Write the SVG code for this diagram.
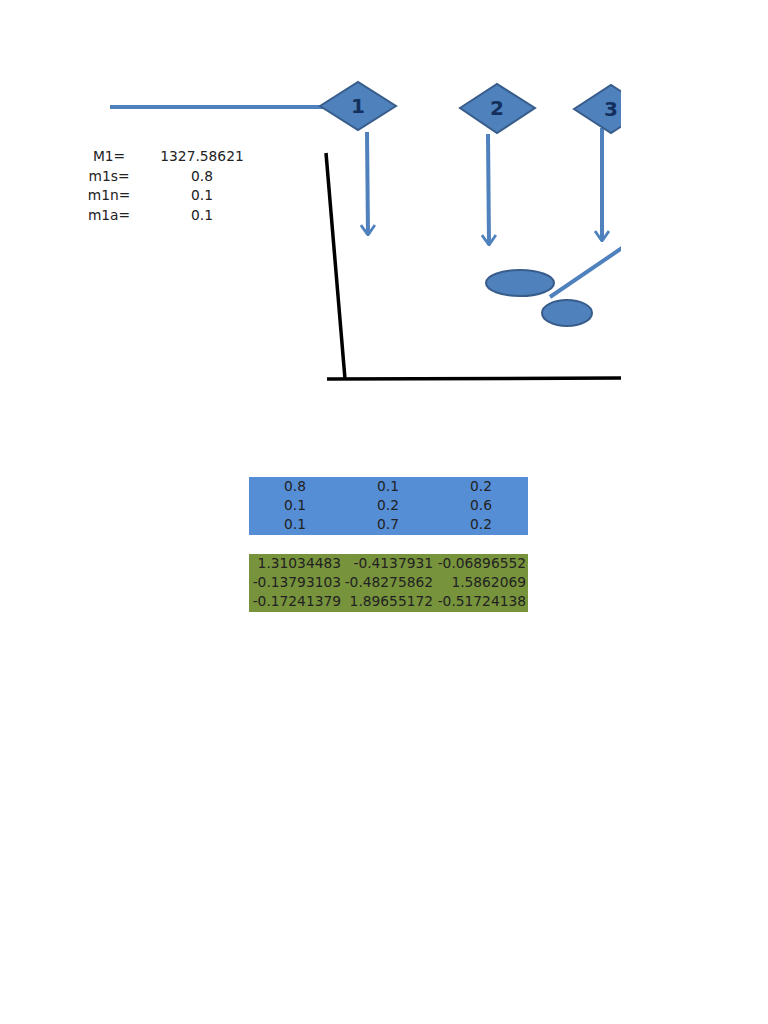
<svg xmlns="http://www.w3.org/2000/svg" width="768" height="1024" viewBox="0 0 768 1024">
<style>
.dia{fill:#4f81bd;stroke:#385d8a;stroke-width:2}
.num{font-family:"DejaVu Sans",sans-serif;font-weight:bold;font-size:20px;fill:#14305e;text-anchor:middle}
.bl{stroke:#4f81bd;stroke-width:4;fill:none}
.blk{stroke:#000;stroke-width:3.5;fill:none}
.t{font-family:"DejaVu Sans",sans-serif;font-size:13.8px;fill:#222}
.c{text-anchor:middle}
.r{text-anchor:end}
</style>
<defs>
<marker id="v" markerWidth="12" markerHeight="16" refX="11" refY="8" orient="auto" markerUnits="userSpaceOnUse" viewBox="0 0 12 16">
<path d="M1,1 L11,8 L1,15" fill="none" stroke="#4f81bd" stroke-width="2.8"/>
</marker>
<clipPath id="clip"><rect x="0" y="0" width="621" height="1024"/></clipPath>
</defs>
<rect width="768" height="1024" fill="#fff"/>
<g id="connectors" clip-path="url(#clip)">
<line class="bl" x1="110" y1="107" x2="324" y2="107"/>
<line class="bl" x1="367" y1="132" x2="368" y2="235" marker-end="url(#v)"/>
<line class="bl" x1="488" y1="134" x2="489" y2="245" marker-end="url(#v)"/>
<line class="bl" x1="602" y1="128" x2="602" y2="241" marker-end="url(#v)"/>
<line class="bl" x1="550" y1="297" x2="622" y2="248"/>
<line class="blk" x1="326" y1="153" x2="345" y2="379"/>
<line class="blk" x1="327" y1="379" x2="621" y2="378"/>
</g>
<g id="node1">
<polygon class="dia" points="320,106 358,82 396,106 358,130"/>
<text class="num" x="358" y="113">1</text>
</g>
<g id="node2">
<polygon class="dia" points="460,108 497,84 535,108 497,133"/>
<text class="num" x="497" y="115">2</text>
</g>
<g id="node3" clip-path="url(#clip)">
<polygon class="dia" points="574,109 611,85 649,109 611,133"/>
<text class="num" x="611" y="116">3</text>
</g>
<g id="ellipse1"><ellipse cx="520" cy="283" rx="34" ry="13" class="dia"/></g>
<g id="ellipse2"><ellipse cx="567" cy="313" rx="25" ry="13" class="dia"/></g>
<g id="params">
<text class="t c" x="109" y="161">M1=</text>
<text class="t c" x="109" y="181">m1s=</text>
<text class="t c" x="109" y="200">m1n=</text>
<text class="t c" x="109" y="220">m1a=</text>
<text class="t c" x="202" y="161">1327.58621</text>
<text class="t c" x="202" y="181">0.8</text>
<text class="t c" x="202" y="200">0.1</text>
<text class="t c" x="202" y="220">0.1</text>
</g>
<g id="matrix1">
<rect x="249" y="477" width="279" height="58" fill="#558ed5"/>
<text class="t c" x="295" y="491">0.8</text><text class="t c" x="388" y="491">0.1</text><text class="t c" x="481" y="491">0.2</text>
<text class="t c" x="295" y="510">0.1</text><text class="t c" x="388" y="510">0.2</text><text class="t c" x="481" y="510">0.6</text>
<text class="t c" x="295" y="529">0.1</text><text class="t c" x="388" y="529">0.7</text><text class="t c" x="481" y="529">0.2</text>
</g>
<g id="matrix2">
<rect x="249" y="554" width="279" height="58" fill="#77933c"/>
<text class="t r" x="341" y="568">1.31034483</text><text class="t r" x="433" y="568">-0.4137931</text><text class="t r" x="526" y="568">-0.06896552</text>
<text class="t r" x="341" y="587">-0.13793103</text><text class="t r" x="433" y="587">-0.48275862</text><text class="t r" x="526" y="587">1.5862069</text>
<text class="t r" x="341" y="606">-0.17241379</text><text class="t r" x="433" y="606">1.89655172</text><text class="t r" x="526" y="606">-0.51724138</text>
</g>
</svg>
